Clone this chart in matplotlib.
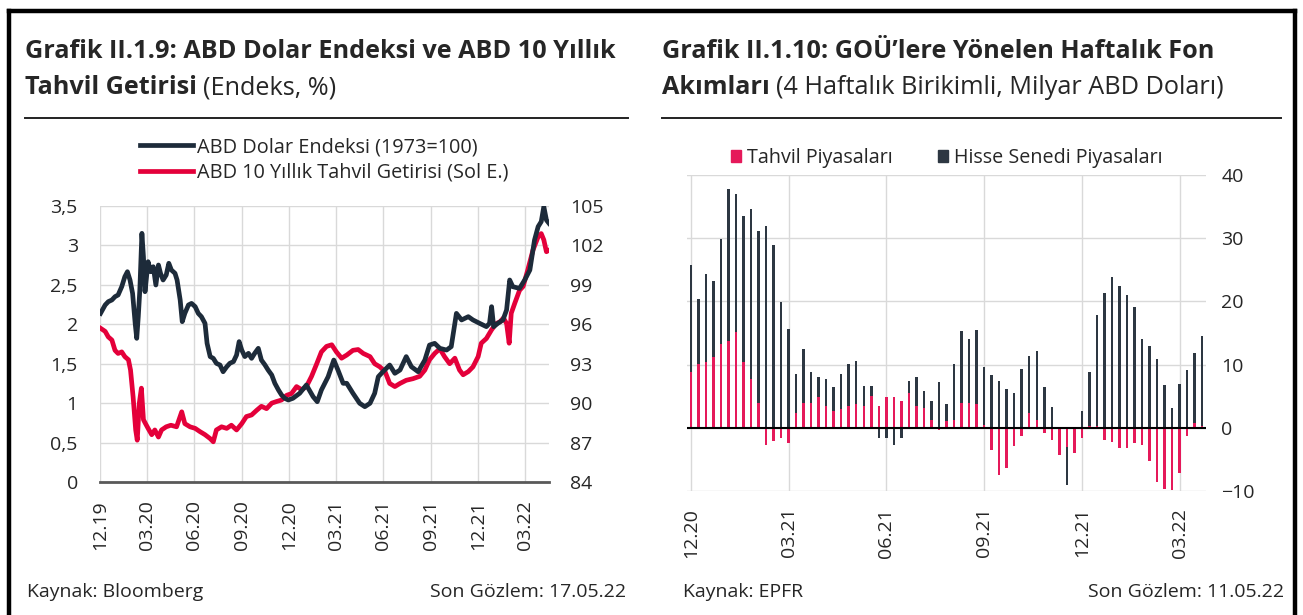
import matplotlib
matplotlib.use("Agg")
import matplotlib.pyplot as plt
from matplotlib.lines import Line2D
from matplotlib.patches import Patch
import numpy as np
import pandas as pd

plt.rcParams['font.family'] = ['Open Sans', 'DejaVu Sans']

# ---------------- Left chart data (days after 2019-12-31) ----------------
start_date = "2019-12-31"
dxy_day = [1, 10, 16, 23, 29, 35, 42, 48, 53, 58, 63, 68, 71, 74, 77, 81, 84, 87, 90, 93,
           98, 103, 108, 113, 117, 122, 128, 133, 138, 145, 149, 155, 159, 164, 171, 177,
           184, 190, 196, 203, 207, 213, 219, 225, 232, 238, 245, 251, 258, 264, 269, 274,
           280, 287, 293, 299, 306, 312, 319, 325, 332, 338, 345, 351, 357, 364, 373, 386,
           399, 412, 420, 428, 441, 452, 460, 470, 477, 489, 502, 512, 522, 531, 538, 547,
           560, 570, 580, 592, 602, 615, 628, 637, 647, 657, 670, 679, 689, 699, 712, 721,
           734, 747, 753, 757, 761, 769, 779, 786, 792, 798, 811, 821, 831, 840, 847, 853,
           858, 863, 868]
dxy_values = [96.83, 97.47, 97.72, 97.85, 98.10, 98.23, 98.86, 99.62, 100.00, 99.37, 98.35,
              96.07, 94.93, 96.58, 98.61, 102.92, 101.14, 98.48, 99.62, 100.76,
              100.00, 100.38, 98.99, 100.51, 99.88, 99.37, 99.75, 100.64, 100.13, 99.88,
              99.37, 97.85, 96.20, 96.83, 97.47, 97.59,
              97.34, 96.83, 96.58, 96.07, 94.55, 93.54, 93.41, 93.03, 92.90, 92.39, 92.77,
              93.03, 93.16, 93.66, 94.68, 94.04,
              93.54, 93.79, 93.41, 93.79, 94.17, 93.28, 92.90, 92.52, 92.14, 91.51, 91.00,
              90.62, 90.37, 90.24, 90.37, 90.75,
              91.38, 90.49, 90.11, 91.00, 92.01, 93.28, 92.52, 91.51, 91.51, 90.75, 89.99,
              89.73, 89.99, 90.75, 92.01, 92.39,
              92.90, 92.27, 92.52, 93.54, 92.77, 92.39, 93.28, 94.42, 94.55, 94.17, 94.04,
              94.30, 96.83, 96.33, 96.58, 96.33,
              96.07, 95.82, 96.07, 97.34, 95.82, 96.07, 96.33, 97.09, 99.37, 98.86, 98.73,
              99.37, 100.13, 102.41, 103.43, 103.81,
              104.95, 103.93, 103.68]

ust_day = [1, 10, 16, 23, 29, 35, 42, 48, 55, 59, 64, 69, 72, 76, 80, 84, 88, 93, 100,
           106, 113, 119, 128, 137, 148, 158, 164, 174, 184, 193, 203, 213, 219, 225, 235,
           245, 254, 264, 274, 283, 293, 303, 312, 322, 332, 341, 351, 361, 370, 380, 390,
           399, 409, 419, 428, 438, 448, 457, 467, 477, 489, 499, 509, 522, 531, 541, 551,
           560, 570, 580, 592, 605, 618, 628, 637, 647, 657, 666, 676, 686, 695, 702, 712,
           721, 731, 737, 747, 757, 766, 773, 780, 786, 791, 795, 802, 811, 818, 827, 837,
           847, 853, 858, 863, 868]
ust_values = [1.95, 1.91, 1.84, 1.80, 1.67, 1.63, 1.65, 1.59, 1.55, 1.42, 1.08, 0.66, 0.53,
              1.00, 1.19, 0.79, 0.74, 0.68, 0.60,
              0.66, 0.57, 0.66, 0.70, 0.72, 0.70, 0.89, 0.74, 0.70, 0.68, 0.64, 0.60, 0.55,
              0.51, 0.66, 0.70,
              0.68, 0.72, 0.66, 0.74, 0.83, 0.85, 0.91, 0.96, 0.93, 1.00, 1.02, 1.04, 1.10,
              1.12, 1.21, 1.17,
              1.21, 1.34, 1.50, 1.65, 1.72, 1.74, 1.65, 1.57, 1.61, 1.67, 1.68, 1.63, 1.59,
              1.50, 1.46, 1.40,
              1.25, 1.21, 1.25, 1.29, 1.31, 1.34, 1.42, 1.55, 1.63, 1.69, 1.59, 1.50, 1.57,
              1.42, 1.36, 1.40,
              1.46, 1.59, 1.76, 1.82, 1.93, 2.01, 2.03, 2.08, 2.01, 1.76, 2.14, 2.27, 2.43,
              2.48, 2.69, 2.94,
              3.11, 3.15, 3.07, 2.92, 2.94]

left_xticks = ["2019-12-31", "2020-03-31", "2020-06-30", "2020-09-30", "2020-12-31",
               "2021-03-31", "2021-06-30", "2021-09-30", "2021-12-31", "2022-03-31"]
left_xlabels = ["12.19", "03.20", "06.20", "09.20", "12.20", "03.21", "06.21", "09.21", "12.21", "03.22"]
left_yticks = [0, 0.5, 1, 1.5, 2, 2.5, 3, 3.5]
left_ylabels = ["0", "0,5", "1", "1,5", "2", "2,5", "3", "3,5"]
right_yticks = [84, 87, 90, 93, 96, 99, 102, 105]

# ---------------- Right chart data (weekly, 4-week cumulative) ----------------
hisse = [25.7, 20.4, 24.4, 23.2, 29.8, 37.8, 37.0, 33.5, 34.6, 31.2,
         31.9, 29.0, 19.9, 15.7, 8.5, 12.5, 8.9, 8.0, 7.8, 6.4,
         8.5, 10.1, 10.5, 6.6, 6.6, -1.6, -1.6, -2.7, -1.6, 7.4,
         8.0, 5.9, 4.3, 7.2, 3.7, 10.1, 15.3, 14.1, 15.5, 9.6,
         8.4, 7.4, 6.1, 5.5, 9.3, 11.4, 12.1, 6.5, 3.3, -0.5,
         -9.0, -1.0, 2.7, 8.8, 17.8, 21.3, 23.9, 22.4, 21.0, 19.1,
         14.0, 13.0, 10.9, 6.7, 3.2, 7.0, 9.1, 11.9, 14.6]
tahvil = [8.8, 10.1, 10.4, 11.2, 13.3, 13.8, 15.2, 10.4, 7.7, 4.0,
          -2.7, -2.1, -1.6, -2.4, 2.4, 4.0, 4.0, 4.8, 3.5, 2.7,
          2.9, 3.5, 3.7, 3.5, 5.0, 3.5, 4.8, 4.8, 4.3, 5.5,
          3.5, 3.2, 1.3, -0.3, 1.0, 1.3, 4.0, 4.0, 3.7, 0.5,
          -3.5, -7.4, -6.4, -2.9, -1.3, 2.4, 1.3, -0.8, -2.0, -4.3,
          -3.0, -4.0, -1.6, 0.3, 0.3, -1.9, -2.2, -3.2, -3.2, -2.4,
          -2.7, -5.3, -8.5, -9.7, -9.8, -7.2, -1.3, 0.7, 0.3]
right_xtick_idx = [0, 13, 26, 39, 52, 65]
right_xlabels = ["12.20", "03.21", "06.21", "09.21", "12.21", "03.22"]
bar_yticks = [-10, 0, 10, 20, 30, 40]

NAVY = "#1d2b3a"
RED = "#e4003a"
PINK = "#e5195a"
DARK = "#2d3742"
GRID = "#d9d9d9"
TXT = "#262626"

W, H = 1303, 615
fig = plt.figure(figsize=(W / 100, H / 100), dpi=100)
fig.patch.set_facecolor("white")

def fx(px):
    return px / W

def fy(py):
    return 1 - py / H

# outer frame
fig.add_artist(Line2D([fx(9), fx(9)], [fy(11), fy(620)], color="black", lw=3.2))
fig.add_artist(Line2D([fx(9), fx(1295)], [fy(11), fy(11)], color="black", lw=3.2))
fig.add_artist(Line2D([fx(1295), fx(1295)], [fy(11), fy(620)], color="black", lw=3.2))

# titles
TS = 18.2
fig.text(fx(25), fy(52), "Grafik II.1.9: ABD Dolar Endeksi ve ABD 10 Yıllık", fontsize=TS,
         fontweight="bold", color=TXT, va="center", ha="left")
t = fig.text(fx(25), fy(88), "Tahvil Getirisi", fontsize=TS, fontweight="bold", color=TXT,
             va="center", ha="left")
fig.canvas.draw()
bb = t.get_window_extent()
fig.text(bb.x1 / W + fx(6), fy(88), "(Endeks, %)", fontsize=TS, color=TXT, va="center", ha="left")

fig.text(fx(662), fy(52), "Grafik II.1.10: GOÜ\u2019lere Yönelen Haftalık Fon", fontsize=TS,
         fontweight="bold", color=TXT, va="center", ha="left")
t2 = fig.text(fx(662), fy(88), "Akımları", fontsize=TS, fontweight="bold", color=TXT,
              va="center", ha="left")
fig.canvas.draw()
bb2 = t2.get_window_extent()
fig.text(bb2.x1 / W + fx(6), fy(88), "(4 Haftalık Birikimli, Milyar ABD Doları)", fontsize=TS,
         color=TXT, va="center", ha="left")

fig.add_artist(Line2D([fx(25), fx(628)], [fy(118), fy(118)], color="#222222", lw=1.4))
fig.add_artist(Line2D([fx(662), fx(1281)], [fy(118), fy(118)], color="#222222", lw=1.4))

# footers
FS = 14
fig.text(fx(27), fy(592), "Kaynak: Bloomberg", fontsize=FS, color=TXT, va="center", ha="left")
fig.text(fx(626), fy(592), "Son Gözlem: 17.05.22", fontsize=FS, color=TXT, va="center", ha="right")
fig.text(fx(683), fy(592), "Kaynak: EPFR", fontsize=FS, color=TXT, va="center", ha="left")
fig.text(fx(1284), fy(592), "Son Gözlem: 11.05.22", fontsize=FS, color=TXT, va="center", ha="right")

# ---------------- Left chart ----------------
t0 = pd.Timestamp(start_date)
axL = fig.add_axes([fx(100), fy(482), fx(549 - 100), (482 - 206) / H])
ax2 = axL.twinx()
ud = t0 + pd.to_timedelta(ust_day, unit="D")
dd = t0 + pd.to_timedelta(dxy_day, unit="D")
axL.plot(ud, ust_values, color=RED, lw=3.4, solid_joinstyle="round")
ax2.plot(dd, dxy_values, color=NAVY, lw=3.4, solid_joinstyle="round")
axL.set_ylim(0, 3.5)
ax2.set_ylim(84, 105)
axL.set_xlim(t0, t0 + pd.Timedelta(days=868))
axL.set_yticks(left_yticks)
axL.set_yticklabels(left_ylabels)
ax2.set_yticks(right_yticks)
axL.set_xticks(pd.to_datetime(left_xticks))
axL.set_xticklabels(left_xlabels, rotation=90)
for a in (axL, ax2):
    for s in a.spines.values():
        s.set_visible(False)
    a.tick_params(length=0, labelsize=14, colors=TXT)
axL.spines["bottom"].set_visible(True)
axL.spines["bottom"].set_color("#595959")
axL.spines["bottom"].set_linewidth(2)
axL.tick_params(axis="y", pad=16)
axL.tick_params(axis="x", pad=13)
ax2.tick_params(axis="y", pad=15)
axL.grid(True, color=GRID, lw=1)
axL.set_axisbelow(True)

leg_handles = [Line2D([], [], color=NAVY, lw=3.4), Line2D([], [], color=RED, lw=3.4)]
leg = fig.legend(leg_handles, ["ABD Dolar Endeksi (1973=100)", "ABD 10 Yıllık Tahvil Getirisi (Sol E.)"],
                 loc="upper left", bbox_to_anchor=(fx(140), fy(137)), frameon=False,
                 fontsize=14.3, handlelength=2.65, handletextpad=0.2, labelspacing=0.28,
                 borderaxespad=0, borderpad=0)
for tx in leg.get_texts():
    tx.set_color(TXT)

# ---------------- Right chart ----------------
axR = fig.add_axes([fx(687), fy(491), fx(1206 - 687), (491 - 175) / H])
idx = np.arange(len(hisse))
axR.bar(idx, hisse, width=0.33, color=DARK, zorder=3)
axR.bar(idx, tahvil, width=0.33, color=PINK, zorder=4)
axR.axhline(0, color="black", lw=1.5, zorder=5)
axR.set_xlim(-0.5, len(hisse) - 0.5)
axR.set_ylim(-10, 40)
axR.set_yticks(bar_yticks)
axR.set_xticks(right_xtick_idx)
axR.set_xticklabels(right_xlabels, rotation=90)
axR.yaxis.tick_right()
for s in axR.spines.values():
    s.set_visible(False)
axR.tick_params(length=0, labelsize=14, colors=TXT)
axR.tick_params(axis="y", pad=11)
axR.tick_params(axis="x", pad=12)
axR.grid(True, color=GRID, lw=1, zorder=0)
axR.set_axisbelow(True)

legR = fig.legend([Patch(color=PINK), Patch(color=DARK)],
                  ["Tahvil Piyasaları", "Hisse Senedi Piyasaları"],
                  loc="center left", bbox_to_anchor=(fx(731), fy(158)), ncol=2, frameon=False,
                  fontsize=14.2, handlelength=0.5, handleheight=0.5, handletextpad=0.3,
                  columnspacing=2.3, borderaxespad=0, borderpad=0)
for tx in legR.get_texts():
    tx.set_color(TXT)

fig.savefig("out.png", dpi=100, facecolor="white")
